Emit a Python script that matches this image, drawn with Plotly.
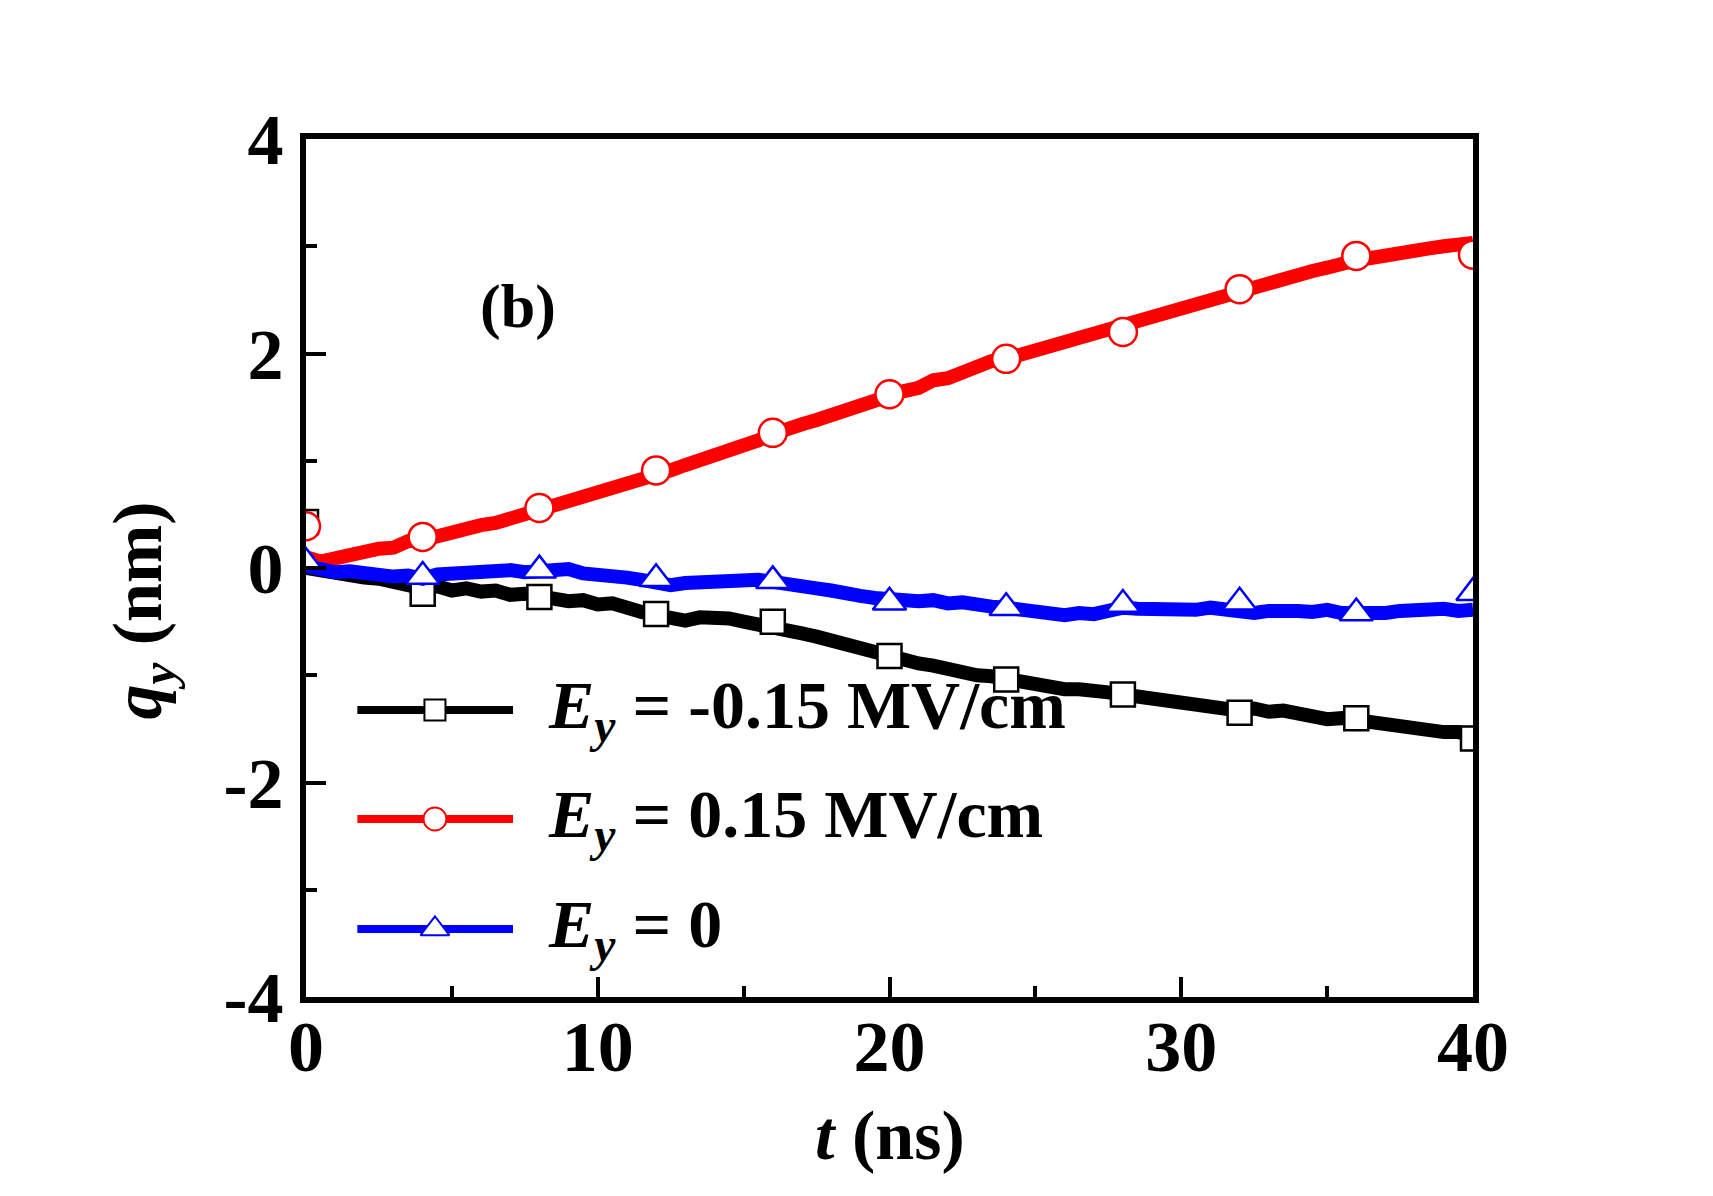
import plotly.graph_objects as go

# ---------------- data ----------------
t = [i * 0.5 for i in range(81)]

q_neg = [0.00, -0.03, -0.05, -0.06, -0.09, -0.10, -0.14, -0.15, -0.19, -0.17,
         -0.21, -0.19, -0.22, -0.21, -0.25, -0.24, -0.27, -0.27, -0.31, -0.30,
         -0.34, -0.33, -0.38, -0.41, -0.44, -0.47, -0.49, -0.46, -0.45, -0.47,
         -0.50, -0.52, -0.55, -0.57, -0.61, -0.64, -0.68, -0.71, -0.75, -0.78,
         -0.83, -0.85, -0.89, -0.91, -0.95, -0.96, -1.00, -1.01, -1.04, -1.06,
         -1.09, -1.10, -1.13, -1.13, -1.16, -1.16, -1.18, -1.20, -1.22, -1.23,
         -1.26, -1.27, -1.29, -1.31, -1.33, -1.31, -1.34, -1.33, -1.36, -1.38,
         -1.41, -1.40, -1.42, -1.44, -1.47, -1.46, -1.49, -1.51, -1.53, -1.53,
         -1.56]

q_pos = [0.10, 0.06, 0.09, 0.13, 0.14, 0.18, 0.19, 0.25, 0.26, 0.30,
         0.33, 0.37, 0.40, 0.42, 0.46, 0.49, 0.53, 0.56, 0.61, 0.64,
         0.70, 0.73, 0.78, 0.83, 0.87, 0.91, 0.96, 1.00, 1.05, 1.10,
         1.15, 1.19, 1.25, 1.28, 1.34, 1.38, 1.43, 1.47, 1.51, 1.56,
         1.60, 1.65, 1.68, 1.75, 1.77, 1.83, 1.86, 1.93, 1.95, 1.99,
         2.02, 2.06, 2.10, 2.13, 2.18, 2.21, 2.25, 2.30, 2.33, 2.39,
         2.42, 2.47, 2.50, 2.56, 2.59, 2.62, 2.66, 2.71, 2.74, 2.77,
         2.80, 2.85, 2.87, 2.89, 2.92, 2.94, 2.95, 2.98, 3.00, 3.02,
         3.03]

q_zero = [0.02, -0.02, -0.04, -0.03, -0.05, -0.04, -0.08, -0.07, -0.10, -0.06,
          -0.05, -0.07, -0.04, -0.05, -0.02, -0.04, -0.02, -0.03, -0.01, -0.05,
          -0.06, -0.05, -0.09, -0.11, -0.14, -0.16, -0.14, -0.13, -0.11, -0.13,
          -0.12, -0.11, -0.13, -0.16, -0.18, -0.19, -0.21, -0.22, -0.26, -0.28,
          -0.30, -0.29, -0.31, -0.30, -0.33, -0.32, -0.35, -0.36, -0.37, -0.39,
          -0.41, -0.43, -0.44, -0.42, -0.43, -0.40, -0.37, -0.38, -0.39, -0.40,
          -0.38, -0.39, -0.37, -0.39, -0.41, -0.42, -0.40, -0.39, -0.40, -0.41,
          -0.39, -0.42, -0.43, -0.41, -0.42, -0.40, -0.39, -0.41, -0.38, -0.40,
          -0.39]

t_mark = [0, 4, 8, 12, 16, 20, 24, 28, 32, 36, 40]
m_neg = [0.43, -0.24, -0.27, -0.43, -0.50, -0.82, -1.04, -1.18, -1.35, -1.40, -1.59]
m_pos = [0.39, 0.29, 0.56, 0.91, 1.26, 1.62, 1.95, 2.20, 2.60, 2.91, 2.92]
m_zero = [0.05, -0.08, -0.02, -0.10, -0.12, -0.32, -0.37, -0.34, -0.32, -0.42, -0.23]

labels = ["<i>E</i><sub><i>y</i></sub> = -0.15 MV/cm",
          "<i>E</i><sub><i>y</i></sub> = 0.15 MV/cm",
          "<i>E</i><sub><i>y</i></sub> = 0"]
colors = ["#000000", "#FF0000", "#0000FF"]
symbols = ["square", "circle", "triangle-up"]

x_ticks = [0, 10, 20, 30, 40]
x_minor = [5, 15, 25, 35]
y_ticks = [-4, -2, 0, 2, 4]
y_ticktext = ["-4", "-2", "0", "2", "4"]
y_minor = [-3, -1, 1, 3]

# legend sample positions (fractions of plot area)
leg_x = [0.044, 0.1774]
leg_mx = 0.1105
leg_y = [0.3345, 0.2075, 0.0793]

FONT = "Liberation Serif"
fig = go.Figure()

series = [(q_neg, m_neg), (q_pos, m_pos), (q_zero, m_zero)]
msize = [24, 28, 29]
leg_msize = [21, 23, 25]
for i, (line_vals, mark_vals) in enumerate(series):
    fig.add_trace(go.Scatter(x=t, y=line_vals, mode="lines",
                             line=dict(color=colors[i], width=14),
                             showlegend=False, hoverinfo="skip"))
    fig.add_trace(go.Scatter(x=t_mark, y=mark_vals, mode="markers",
                             marker=dict(symbol=symbols[i], size=msize[i],
                                         color="white",
                                         line=dict(color=colors[i], width=2.5)),
                             showlegend=False, hoverinfo="skip"))

# legend samples drawn on an overlay axis
for i in range(3):
    fig.add_trace(go.Scatter(x=leg_x, y=[leg_y[i]] * 2, mode="lines",
                             line=dict(color=colors[i], width=8),
                             xaxis="x2", yaxis="y2", showlegend=False,
                             hoverinfo="skip"))
    fig.add_trace(go.Scatter(x=[leg_mx], y=[leg_y[i]], mode="markers",
                             marker=dict(symbol=symbols[i], size=leg_msize[i],
                                         color="white",
                                         line=dict(color=colors[i], width=2)),
                             xaxis="x2", yaxis="y2", showlegend=False,
                             hoverinfo="skip"))
    fig.add_annotation(x=0.2057, y=leg_y[i], xref="paper", yref="paper",
                       text="<b>" + labels[i] + "</b>", showarrow=False,
                       xanchor="left", yanchor="middle",
                       font=dict(family=FONT, size=68, color="black"))

fig.add_annotation(x=0.182, y=0.805, xref="paper", yref="paper",
                   text="<b>(b)</b>", showarrow=False,
                   xanchor="center", yanchor="middle",
                   font=dict(family=FONT, size=62, color="black"))
fig.add_annotation(x=0.5, y=-0.161, xref="paper", yref="paper",
                   text="<b><i>t</i> (ns)</b>", showarrow=False,
                   xanchor="center", yanchor="middle",
                   font=dict(family=FONT, size=70, color="black"))
fig.add_annotation(x=-0.14, y=0.45, xref="paper", yref="paper",
                   text="<b><i>q</i><sub><i>y</i></sub> (nm)</b>", showarrow=False,
                   textangle=-90, xanchor="center", yanchor="middle",
                   font=dict(family=FONT, size=70, color="black"))

axis_common = dict(showgrid=False, zeroline=False, showline=True,
                   linecolor="black", linewidth=6, mirror=True,
                   ticks="inside", ticklen=20, tickwidth=4, tickcolor="black",
                   tickfont=dict(family=FONT, size=72, color="black"))

fig.update_layout(
    width=1713, height=1196,
    margin=dict(l=306, r=240, t=139, b=199),
    paper_bgcolor="white", plot_bgcolor="white",
    xaxis=dict(range=[0, 40], tickmode="array", tickvals=x_ticks,
               ticktext=[f"<b>{v}</b>" for v in x_ticks],
               minor=dict(tickmode="array", tickvals=x_minor, ticks="inside",
                          ticklen=11, tickwidth=4, tickcolor="black"),
               ticklabelstandoff=-18, **axis_common),
    yaxis=dict(range=[-4, 4], tickmode="array", tickvals=y_ticks,
               ticktext=[f"<b>{v}</b>" for v in y_ticktext],
               minor=dict(tickmode="array", tickvals=y_minor, ticks="inside",
                          ticklen=11, tickwidth=4, tickcolor="black"),
               ticklabelstandoff=2, **axis_common),
    xaxis2=dict(overlaying="x", range=[0, 1], visible=False),
    yaxis2=dict(overlaying="y", range=[0, 1], visible=False),
)

fig.write_html("out.html")
